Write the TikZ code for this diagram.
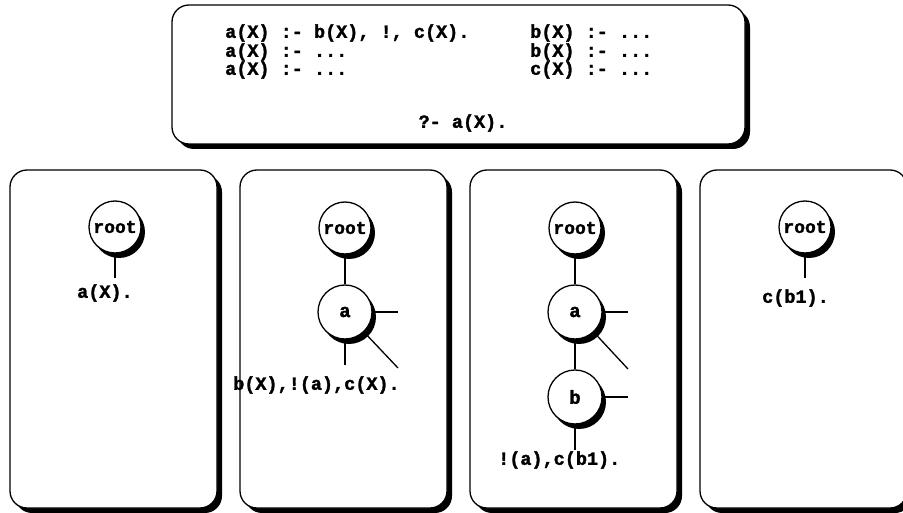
\documentclass[tikz,border=0pt]{standalone}
\usepackage{fontspec}
\newfontfamily\cour{Liberation Mono}[BoldFeatures={FakeBold=1.6}]
\usetikzlibrary{shadows}
\begin{document}
\begin{tikzpicture}[x=1pt,y=-1pt,
  panel/.style={draw=black, line width=1.3pt, fill=white, rounded corners=17pt,
    general shadow={fill=black, shadow xshift=5pt, shadow yshift=-5pt}, inner sep=0pt},
  goal/.style={circle, draw=black, line width=1.3pt, fill=white, minimum size=54pt, inner sep=0pt,
    general shadow={fill=black, shadow xshift=4pt, shadow yshift=-5pt},
    font=\fontsize{19}{19}\selectfont\cour\bfseries},
  rootn/.style={goal, minimum size=52pt, font=\fontsize{18}{18}\selectfont\cour\bfseries},
  code/.style={inner sep=0pt, anchor=west, font=\fontsize{18.5}{18.5}\selectfont\cour\bfseries},
  edge/.style={line width=1.3pt}]
\useasboundingbox (0,0) rectangle (903,513);
\clip (0,0) rectangle (903,513);

% panels
\node[panel, minimum width=573pt, minimum height=139pt] (top) at (458.5,74.5) {};
\node[panel, minimum width=207pt, minimum height=338pt] (p1) at (113.5,339) {};
\node[panel, minimum width=207pt, minimum height=338pt] (p2) at (343.5,339) {};
\node[panel, minimum width=207pt, minimum height=338pt] (p3) at (573.5,339) {};
\node[panel, minimum width=207pt, minimum height=338pt] (p4) at (803.5,339) {};

% program text
\node[code] (l1) at (225,33) {a(X) :- b(X), !, c(X).};
\node[code] (l2) at (225,52) {a(X) :- ...};
\node[code] (l3) at (225,70) {a(X) :- ...};
\node[code] (m1) at (530,33) {b(X) :- ...};
\node[code] (m2) at (530,52) {b(X) :- ...};
\node[code] (m3) at (530,70) {c(X) :- ...};
\node[code, anchor=center] (q) at (463,123) {?- a(X).};

% panel 1
\node[rootn] (r1) at (115,227) {root};
\coordinate (r1e) at (115,278);
\draw[edge] (r1) -- (r1e);
\node[code] (t1) at (77,293) {a(X).};

% panel 2
\node[rootn] (r2) at (345,228) {root};
\node[goal] (a2) at (345,312) {a};
\coordinate (a2r) at (398,312);
\coordinate (a2d) at (398,368);
\coordinate (a2b) at (345,365);
\draw[edge] (r2) -- (a2);
\draw[edge] (a2) -- (a2r);
\draw[edge] (a2) -- (a2d);
\draw[edge] (a2) -- (a2b);
\node[code] (t2) at (233,385) {b(X),!(a),c(X).};

% panel 3
\node[rootn] (r3) at (575,228) {root};
\node[goal] (a3) at (575,312) {a};
\node[goal] (b3) at (575,397) {b};
\coordinate (a3r) at (628,312);
\coordinate (a3d) at (628,369);
\coordinate (b3r) at (628,397);
\coordinate (b3b) at (575,450);
\draw[edge] (r3) -- (a3);
\draw[edge] (a3) -- (b3);
\draw[edge] (a3) -- (a3r);
\draw[edge] (a3) -- (a3d);
\draw[edge] (b3) -- (b3r);
\draw[edge] (b3) -- (b3b);
\node[code] (t3) at (498,460) {!(a),c(b1).};

% panel 4
\node[rootn] (r4) at (805,227) {root};
\coordinate (r4e) at (805,278);
\draw[edge] (r4) -- (r4e);
\node[code] (t4) at (762,298) {c(b1).};
\end{tikzpicture}
\end{document}
